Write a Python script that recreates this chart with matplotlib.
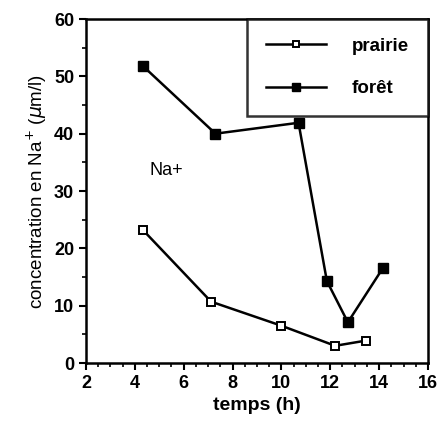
import matplotlib
matplotlib.use("Agg")
import matplotlib.pyplot as plt
from matplotlib.ticker import MultipleLocator

# données
t_prairie = [4.33, 7.12, 10.0, 12.2, 13.45]
na_prairie = [23.2, 10.7, 6.5, 3.0, 3.9]
t_foret = [4.33, 7.3, 10.7, 11.86, 12.72, 14.16]
na_foret = [51.8, 40.0, 41.9, 14.3, 7.1, 16.6]

plt.rcParams['font.family'] = ['Liberation Sans', 'DejaVu Sans']

dpi = 100
fig = plt.figure(dpi=dpi, figsize=(439 / dpi, 426 / dpi))
ax = fig.add_axes([86 / 439, 1 - 363 / 426, (428 - 86) / 439, (363 - 19) / 426])

ax.plot(t_prairie, na_prairie, color='black', lw=1.8, marker='s', ms=6,
        mfc='white', mec='black', mew=1.4, label='prairie')
ax.plot(t_foret, na_foret, color='black', lw=1.8, marker='s', ms=6.5,
        mfc='black', mec='black', label='forêt')

ax.set_xlim(2, 16)
ax.set_ylim(0, 60)
ax.xaxis.set_major_locator(MultipleLocator(2))
ax.xaxis.set_minor_locator(MultipleLocator(0.5))
ax.yaxis.set_major_locator(MultipleLocator(10))
ax.yaxis.set_minor_locator(MultipleLocator(5))
ax.tick_params(which='major', length=5, width=1.5, labelsize=13)
ax.tick_params(which='minor', length=3, width=1.2)
for lab in ax.get_xticklabels() + ax.get_yticklabels():
    lab.set_fontweight('bold')
for s in ax.spines.values():
    s.set_linewidth(1.8)

ax.set_xlabel('temps (h)', fontsize=14, fontweight='bold')
ax.set_ylabel('concentration en Na$^{+}$ ($\\mu$m/l)', fontsize=13.5)
ax.text(4.6, 33.5, 'Na+', fontsize=13, ha='left', va='center')

leg = ax.legend(loc='upper right', borderaxespad=0, fancybox=False,
                frameon=True, handlelength=3.2, labelspacing=1.35,
                borderpad=1.0, handletextpad=1.4, markerscale=0.8,
                prop={'weight': 'bold', 'size': 13.5})
leg.get_frame().set_edgecolor('black')
leg.get_frame().set_linewidth(1.8)

fig.savefig('out.png', dpi=dpi)
